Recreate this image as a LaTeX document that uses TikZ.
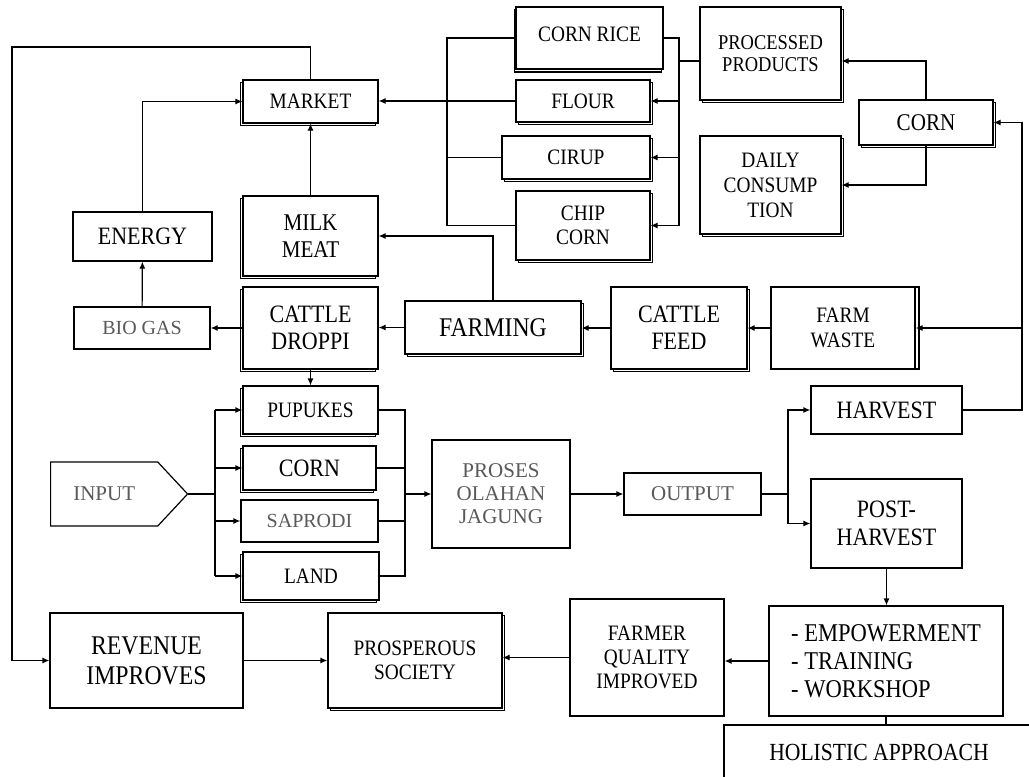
\documentclass[tikz,border=0pt]{standalone}
\usepackage{fontspec}
\setmainfont{Liberation Serif}[FakeStretch=0.88]
\newfontfamily\plainfont{Liberation Serif}
\usetikzlibrary{arrows.meta,shapes.symbols,shadows}
\newcommand{\fsz}[2]{\fontsize{#1}{#2}\selectfont}

\begin{document}
\begin{tikzpicture}[x=0.5pt,y=-0.5pt,line width=0.6pt,>={Latex[length=3.5pt,width=3pt]}]
\tikzstyle{every node}+=[inner sep=0pt]
\tikzset{box/.style={draw=black,fill=white,align=center},
  shr/.style={copy shadow={shadow xshift=1.2pt,shadow yshift=-1.2pt}},
  shl/.style={copy shadow={shadow xshift=-1.2pt,shadow yshift=-1.2pt}},
  grey/.style={text=black!65}}
\useasboundingbox (0,0) rectangle (1029,777);
\clip (0,0) rectangle (1029,777);
\fill [white] (0,0) rectangle (1029,777);
\node [box,shl,font=\fsz{11}{13},minimum width=67.5pt,minimum height=21.5pt] (market) at (310.5,101.5) {MARKET};
\node [box,font=\fsz{12.5}{14},minimum width=69.5pt,minimum height=24.5pt] (energy) at (142.5,236.5) {ENERGY};
\node [box,shl,font=\fsz{12}{13.5},minimum width=67.5pt,minimum height=40pt] (milk) at (310.5,236) {MILK\\MEAT};
\node [box,shl,font=\fsz{12.5}{13.5},minimum width=67.5pt,minimum height=41pt] (droppi) at (310.5,328) {CATTLE\\DROPPI};
\node [box,grey,font={\plainfont\fsz{10}{12}},minimum width=68pt,minimum height=21pt] (biogas) at (142,328) {BIO GAS};
\node [box,shr,font=\fsz{13.5}{15},minimum width=88pt,minimum height=26.5pt] (farming) at (493,327.5) {FARMING};
\node [box,shr,font=\fsz{12.5}{13.5},minimum width=68pt,minimum height=41pt] (cfeed) at (679,328) {CATTLE\\FEED};
\node [box,copy shadow={shadow xshift=2pt,shadow yshift=0pt},font=\fsz{11}{12.5},minimum width=72pt,minimum height=41pt] (fwaste) at (843,328) {FARM\\WASTE};
\node [box,copy shadow={shadow xshift=-0.8pt,shadow yshift=-1.5pt},font=\fsz{11}{13},minimum width=73.5pt,minimum height=31pt] (cornrice) at (589.5,38) {\raisebox{3.5pt}{CORN RICE}};
\node [box,shr,font=\fsz{11}{13},minimum width=67pt,minimum height=21pt] (flour) at (583,101) {FLOUR};
\node [box,shr,font=\fsz{11}{13},minimum width=74pt,minimum height=21.5pt] (cirup) at (576,157.5) {CIRUP};
\node [box,shr,font=\fsz{11}{12},minimum width=67pt,minimum height=34.5pt] (chip) at (583,225.5) {CHIP\\CORN};
\node [box,shr,font=\fsz{10.5}{11},minimum width=70.5pt,minimum height=46.5pt] (processed) at (770.5,53.5) {PROCESSED\\PRODUCTS};
\node [box,shr,font=\fsz{11}{12.5},minimum width=70.5pt,minimum height=49pt] (daily) at (770.5,185) {DAILY\\CONSUMP\\TION};
\node [box,shr,font=\fsz{12}{14},minimum width=67pt,minimum height=22.5pt] (cornR) at (926,122.5) {CORN};
\node [box,shl,font=\fsz{11}{13},minimum width=67.5pt,minimum height=24pt] (pupukes) at (310.5,410) {PUPUKES};
\node [box,shl,font=\fsz{12.5}{14},minimum width=66.5pt,minimum height=22pt] (cornM) at (309.5,468) {CORN};
\node [box,grey,font={\plainfont\fsz{10}{12}},minimum width=68.5pt,minimum height=21pt] (saprodi) at (309.5,521) {SAPRODI};
\node [box,shl,font=\fsz{11}{13},minimum width=68pt,minimum height=24pt] (land) at (311,576) {LAND};
\node [box,grey,signal,signal to=east,signal pointer angle=94,font={\plainfont\fsz{10.5}{12}},minimum width=68.5pt,minimum height=32pt,anchor=west] (input) at (50,494) {INPUT};
\node [box,grey,font={\plainfont\fsz{10.5}{11.5}},minimum width=69pt,minimum height=54pt] (proses) at (501,494) {PROSES\\OLAHAN\\JAGUNG};
\node [box,grey,font={\plainfont\fsz{10.5}{12}},minimum width=68.5pt,minimum height=21pt] (output) at (692.5,494) {OUTPUT};
\node [box,font=\fsz{12.5}{14},minimum width=75.5pt,minimum height=24pt] (harvest) at (886.5,410) {HARVEST};
\node [box,font=\fsz{12.5}{14},minimum width=75.5pt,minimum height=44.5pt] (post) at (886.5,523.5) {POST-\\HARVEST};
\node [box,font=\fsz{13.5}{15},minimum width=96.5pt,minimum height=47.5pt] (revenue) at (146.5,660.5) {REVENUE\\IMPROVES};
\node [box,shr,font=\fsz{11}{12},minimum width=87pt,minimum height=47.5pt] (prosper) at (415,660.5) {PROSPEROUS\\SOCIETY};
\node [box,font=\fsz{11}{12},minimum width=77pt,minimum height=58.5pt] (farmer) at (647,657.5) {FARMER\\QUALITY\\IMPROVED};
\node [box,align=left,font=\fsz{12.8}{14},minimum width=117pt,minimum height=55pt] (empower) at (886,661) {- EMPOWERMENT\\- TRAINING\\- WORKSHOP};
\node [box,font=\fsz{12.3}{14},minimum width=155pt,minimum height=27pt] (holistic) at (879,752) {HOLISTIC APPROACH};
\coordinate (loop) at (12,47);
\draw [->] (market.north) |- (loop) |- (revenue.west);
\draw [->] (energy.north) |- (market.west);
\draw [->] (milk) -- (market);
\draw [->] (farming.north) |- (milk.east);
\draw [->] (biogas) -- (energy);
\draw [->] (droppi.west) -- (droppi.west -| biogas.east);
\draw [->] (farming.west) -- (farming.west -| droppi.east);
\draw [->] (cfeed.west) -- (cfeed.west -| farming.east);
\draw [->] (fwaste) -- (cfeed);
\draw [->] (droppi) -- (pupukes);
\coordinate (rtop) at (1022,122.5);
\draw [->] (harvest.east) -| (rtop) -- (cornR.east);
\draw [->] (rtop |- fwaste.east) -- (fwaste.east);
\draw [->] (cornR.north) |- ([yshift=-3.75pt]processed.east);
\draw [->] (cornR.south) |- (daily.east);
\coordinate (pbus) at (679,61);
\draw ([yshift=-3.75pt]processed.west) -- (pbus);
\draw (cornrice.east) -| (pbus |- chip.east);
\draw [->] (pbus |- flour.east) -- (flour.east);
\draw [->] (pbus |- cirup.east) -- (cirup.east);
\draw [->] (pbus |- chip.east) -- (chip.east);
\coordinate (mbus) at (447,101.5);
\draw (cornrice.west) -| (mbus |- chip.west) -- (chip.west);
\draw (cirup.west) -- (mbus |- cirup.west);
\draw [->] (flour.west) -- (flour.west -| market.east);
\coordinate (ibus) at (215,494);
\draw (input.east) -- (ibus);
\draw (ibus |- pupukes.west) -- (ibus |- land.west);
\draw [->] (ibus |- pupukes.west) -- (pupukes.west);
\draw [->] (ibus |- cornM.west) -- (cornM.west);
\draw [->] (ibus |- saprodi.west) -- (saprodi.west);
\draw [->] (ibus |- land.west) -- (land.west);
\coordinate (obus) at (405,494);
\draw (pupukes.east) -| (obus |- land.east) -- (land.east);
\draw (cornM.east) -- (obus |- cornM.east);
\draw (saprodi.east) -- (obus |- saprodi.east);
\draw [->] (obus) -- (proses.west);
\draw [->] (proses) -- (output);
\coordinate (hbus) at (788,494);
\draw (output.east) -- (hbus);
\draw [->] (hbus) |- (harvest.west);
\draw [->] (hbus) |- (post.west);
\draw [->] (post.south) -- (post.south |- empower.north);
\draw (empower.south) -- (empower.south |- holistic.north);
\draw [->] (empower.west) -- (empower.west -| farmer.east);
\draw [->] (farmer.west) -- (farmer.west -| prosper.east);
\draw [->] (revenue) -- (prosper);
\end{tikzpicture}
\end{document}
